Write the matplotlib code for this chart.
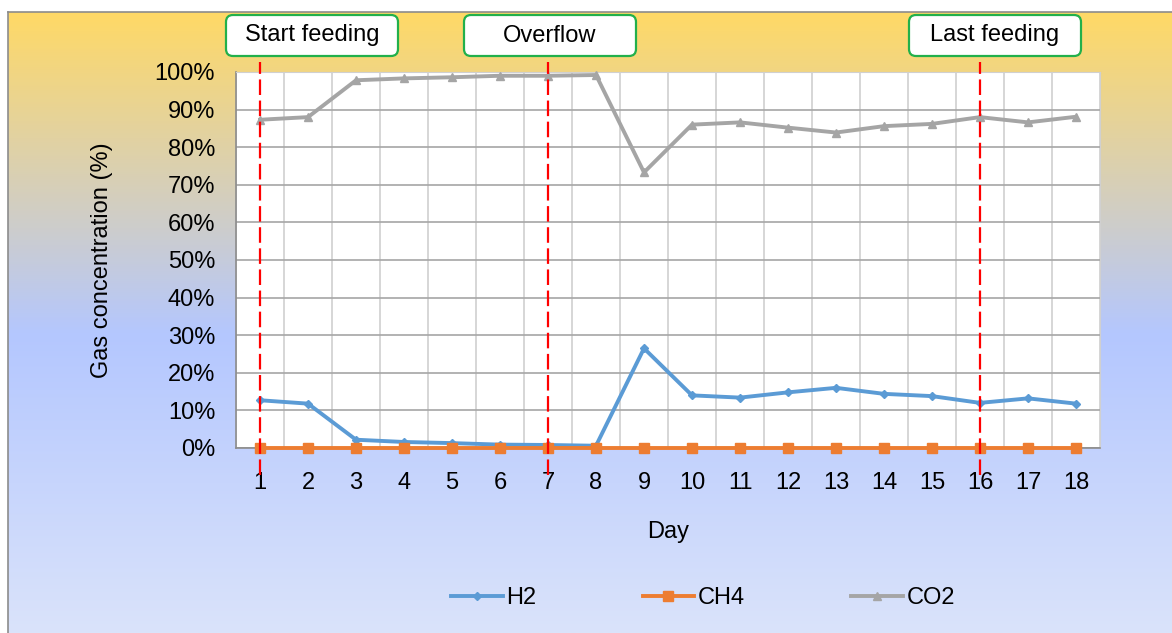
import numpy as np
import matplotlib
matplotlib.use("Agg")
import matplotlib.pyplot as plt
from matplotlib.colors import LinearSegmentedColormap
from matplotlib.patches import FancyBboxPatch
from matplotlib.ticker import PercentFormatter

plt.rcParams['font.family'] = ['Liberation Sans', 'DejaVu Sans']

# data
days = list(range(1, 19))
h2 = [12.7, 11.8, 2.2, 1.6, 1.3, 0.9, 0.8, 0.6, 26.5, 14.0, 13.4, 14.8, 16.0, 14.4, 13.8, 12.0, 13.2, 11.8]
ch4 = [0.0] * 18
co2 = [87.3, 88.0, 97.8, 98.3, 98.6, 99.0, 99.0, 99.2, 73.3, 86.0, 86.6, 85.2, 83.9, 85.6, 86.2, 88.0, 86.6, 88.1]
event_days = [1, 7, 16]
event_labels = ['Start feeding', 'Overflow', 'Last feeding']
event_box_x = [312, 550, 995]  # box centres in pixels

W, H = 1172, 633
FS = 17
fig = plt.figure(figsize=(W / 100, H / 100), dpi=100)
fig.patch.set_facecolor('white')

# gradient background of the chart area
bg = fig.add_axes([8 / W, 0, 1 - 8 / W, (H - 12) / H], zorder=-2)
cmap = LinearSegmentedColormap.from_list('bg', [(0.0, '#FFD966'), (0.52, '#B4C7FF'), (1.0, '#DAE3FA')])
bg.imshow(np.linspace(0, 1, 256).reshape(-1, 1), aspect='auto', cmap=cmap, extent=[0, 1, 0, 1])
bg.set_xticks([])
bg.set_yticks([])
for s in ['right', 'bottom']:
    bg.spines[s].set_visible(False)
for s in ['left', 'top']:
    bg.spines[s].set_color('#8c8c8c')
    bg.spines[s].set_linewidth(1.2)

# plot area
left, right, top, bottom = 236, 1100, 72, 448
ax = fig.add_axes([left / W, (H - bottom) / H, (right - left) / W, (bottom - top) / H])
ax.set_facecolor('white')

ax.plot(days, h2, color='#5B9BD5', lw=2.8, marker='D', ms=4, label='H2', zorder=4, clip_on=False)
ax.plot(days, ch4, color='#ED7D31', lw=2.8, marker='s', ms=7, label='CH4', zorder=4, clip_on=False)
ax.plot(days, co2, color='#A5A5A5', lw=2.8, marker='^', ms=6, label='CO2', zorder=4, clip_on=False)

ax.set_xlim(0.5, 18.5)
ax.set_ylim(0, 100)
ax.set_xticks(days)
ax.set_xticks(np.arange(0.5, 18.6, 0.5), minor=True)
ax.set_yticks(np.arange(0, 101, 10))
ax.yaxis.set_major_formatter(PercentFormatter(decimals=0))
ax.grid(axis='y', which='major', color='#a6a6a6', lw=1.2)
ax.grid(axis='x', which='minor', color='#d0d0d0', lw=1.2)
ax.set_axisbelow(True)
ax.tick_params(axis='both', which='both', length=0, labelsize=FS)
ax.tick_params(axis='x', pad=17)
ax.tick_params(axis='y', pad=15)
for s in ['top', 'right']:
    ax.spines[s].set_color('#d0d0d0')
for s in ['left', 'bottom']:
    ax.spines[s].set_color('#8c8c8c')
    ax.spines[s].set_linewidth(1.2)

ax.set_ylabel('Gas concentration (%)', fontsize=FS, labelpad=30)
ax.set_xlabel('Day', fontsize=FS, labelpad=20)

# event lines
for d in event_days:
    ax.axvline(d, ymin=-0.072, ymax=1.027, color='#FF0000', lw=1.6, ls=(0, (7, 2.5)),
               clip_on=False, zorder=5)

# event boxes in pixel coords
ov = fig.add_axes([0, 0, 1, 1], zorder=3)
ov.set_xlim(0, W)
ov.set_ylim(H, 0)
ov.axis('off')
for cx, lab in zip(event_box_x, event_labels):
    box = FancyBboxPatch((cx - 86, 15), 172, 41, boxstyle='round,pad=0,rounding_size=7',
                         fc='white', ec='#22B04B', lw=1.6)
    ov.add_patch(box)
    ov.text(cx, 35.5, lab, ha='center', va='center', fontsize=FS)

fig.legend(loc='center', bbox_to_anchor=(703 / W, 1 - 598 / H), ncol=3, frameon=False,
           fontsize=FS, columnspacing=4.5, handlelength=2.2, handletextpad=0.15)

fig.savefig('out.png', dpi=100)
